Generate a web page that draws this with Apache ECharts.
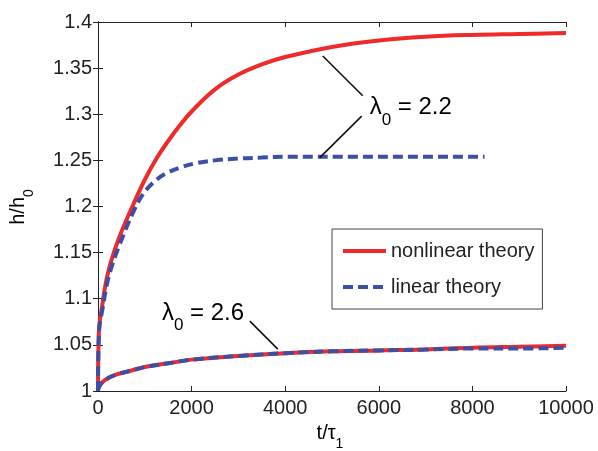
<!DOCTYPE html>
<html>
<head>
<meta charset="utf-8">
<script src="https://cdn.jsdelivr.net/npm/echarts@6/dist/echarts.min.js"></script>
<style>
html, body { margin: 0; padding: 0; background: #fff; }
#chart { width: 598px; height: 451px; }
</style>
</head>
<body>
<div id="chart"></div>
<script>
// lambda0 = 2.2
var tTopRed  = [0, 20, 85, 213, 427, 726, 1000, 1250, 1500, 1750, 2000, 2500, 3000, 3500, 4000, 5000, 6000, 7000, 8000, 9000, 10000];
var hTopRed  = [1.0, 1.065, 1.091, 1.128, 1.163, 1.199, 1.229, 1.252, 1.271, 1.288, 1.303, 1.327, 1.343, 1.354, 1.362, 1.373, 1.380, 1.384, 1.386, 1.387, 1.388];
var tTopBlue = [0, 20, 100, 230, 450, 790, 1000, 1250, 1500, 1800, 2100, 2500, 3000, 3500, 4000, 8260];
var hTopBlue = [1.0, 1.063, 1.09, 1.124, 1.157, 1.198, 1.216, 1.229, 1.237, 1.243, 1.247, 1.250, 1.252, 1.253, 1.254, 1.254];

// lambda0 = 2.6
var tLow     = [0, 10, 50, 150, 400, 700, 1000, 1500, 2000, 3000, 4000, 5000, 6000, 7000, 8000, 9000, 10000];
var hLowRed  = [1.0, 1.003, 1.007, 1.012, 1.018, 1.022, 1.026, 1.030, 1.034, 1.038, 1.041, 1.043, 1.044, 1.045, 1.047, 1.048, 1.049];
var hLowBlue = [1.0, 1.003, 1.007, 1.012, 1.018, 1.022, 1.026, 1.030, 1.034, 1.038, 1.041, 1.043, 1.044, 1.045, 1.046, 1.046, 1.047];

var xTicks = [0, 2000, 4000, 6000, 8000, 10000];
var yTicks = [1, 1.05, 1.1, 1.15, 1.2, 1.25, 1.3, 1.35, 1.4];

// annotation anchors in data units: text [t, h], leader lines [[t,h],[t,h]]
var label22 = [5806, 1.307];
var leaders22 = [[[4803, 1.3632], [5656, 1.320]], [[5635, 1.298], [4739, 1.253]]];
var label26 = [1366, 1.0843];
var leaders26 = [[[3244, 1.0757], [3842, 1.0454]]];

function zip(a, b) {
  return a.map(function (v, i) { return [v, b[i]]; });
}

var font = "'Liberation Sans', Arial, sans-serif";
var red = "#ee2a2a";
var blue = "#3a4fa5";

var chart = echarts.init(document.getElementById("chart"));

var xBase = {
  type: "value",
  min: xTicks[0],
  max: xTicks[xTicks.length - 1],
  interval: 2000,
  splitLine: { show: false },
  axisLine: { show: true, lineStyle: { color: "#222", width: 1 } },
  axisTick: { show: true, inside: true, length: 5, lineStyle: { color: "#222" } },
};
var yBase = {
  type: "value",
  min: yTicks[0],
  max: yTicks[yTicks.length - 1],
  interval: 0.05,
  splitLine: { show: false },
  axisLine: { show: true, lineStyle: { color: "#222", width: 1 } },
  axisTick: { show: true, inside: true, length: 5, lineStyle: { color: "#222" } },
};

function lineSeries(name, data, color, dashed) {
  return {
    name: name,
    type: "line",
    data: data,
    showSymbol: false,
    symbol: "none",
    smooth: 0.4,
    lineStyle: { color: color, width: 4, type: dashed ? [10, 5] : "solid" },
    itemStyle: { color: color },
  };
}

chart.setOption({
  animation: false,
  grid: { left: 98, top: 22, right: 32, bottom: 60 },
  legend: {
    orient: "vertical",
    left: 332,
    top: 229,
    padding: [12, 8, 12, 9],
    itemGap: 16,
    itemWidth: 43,
    itemHeight: 20,
    backgroundColor: "#fff",
    borderColor: "#444",
    borderWidth: 1,
    borderRadius: 0,
    itemStyle: { opacity: 0 },
    lineStyle: { width: 4 },
    textStyle: { fontFamily: font, fontSize: 20, color: "#222", lineHeight: 20 },
    data: ["nonlinear theory", "linear theory"],
  },
  xAxis: [
    Object.assign({}, xBase, {
      position: "bottom",
      axisLabel: {
        fontFamily: font, fontSize: 20, color: "#222", margin: 7,
        formatter: function (v) { return String(v); },
      },
    }),
    Object.assign({}, xBase, { position: "top", axisLabel: { show: false } }),
  ],
  yAxis: [
    Object.assign({}, yBase, {
      position: "left",
      axisLabel: { fontFamily: font, fontSize: 20, color: "#222", margin: 6 },
    }),
    Object.assign({}, yBase, { position: "right", axisLabel: { show: false } }),
  ],
  series: [
    lineSeries("nonlinear theory", zip(tTopRed, hTopRed), red, false),
    lineSeries("nonlinear theory", zip(tLow, hLowRed), red, false),
    lineSeries("linear theory", zip(tTopBlue, hTopBlue), blue, true),
    lineSeries("linear theory", zip(tLow, hLowBlue), blue, true),
  ],
});

// annotations placed through the chart's own scales
function px(p) {
  return chart.convertToPixel({ gridIndex: 0 }, p);
}
var lamRich = {
  a: { fontFamily: font, fontSize: 24, color: "#222", verticalAlign: "middle", lineHeight: 42 },
  s: { fontFamily: font, fontSize: 17, color: "#222", verticalAlign: "bottom", lineHeight: 42 },
};
var graphics = [];
function addLeaders(list) {
  list.forEach(function (seg) {
    var a = px(seg[0]), b = px(seg[1]);
    graphics.push({
      type: "line",
      shape: { x1: a[0], y1: a[1], x2: b[0], y2: b[1] },
      style: { stroke: "#111", lineWidth: 1.6 },
      z: 100,
    });
  });
}
function addLabel(p, txt) {
  var q = px(p);
  graphics.push({
    type: "text",
    x: q[0],
    y: q[1],
    style: { text: "{a|λ}{s|0}{a| = " + txt + "}", rich: lamRich, align: "left", verticalAlign: "middle" },
    z: 100,
  });
}
addLeaders(leaders22);
addLeaders(leaders26);
addLabel(label22, "2.2");
addLabel(label26, "2.6");

// axis names
var nameRich = {
  a: { fontFamily: font, fontSize: 20, color: "#222", verticalAlign: "top", lineHeight: 28 },
  s: { fontFamily: font, fontSize: 14, color: "#222", verticalAlign: "bottom", lineHeight: 28 },
};
graphics.push({
  type: "text",
  x: 330,
  y: 437,
  style: { text: "{a|t/τ}{s|1}", rich: nameRich, align: "center", verticalAlign: "middle" },
});
graphics.push({
  type: "text",
  x: 22,
  y: 207,
  rotation: Math.PI / 2,
  style: { text: "{a|h/h}{s|0}", rich: nameRich, align: "center", verticalAlign: "middle" },
});

chart.setOption({ graphic: graphics });
</script>
</body>
</html>
